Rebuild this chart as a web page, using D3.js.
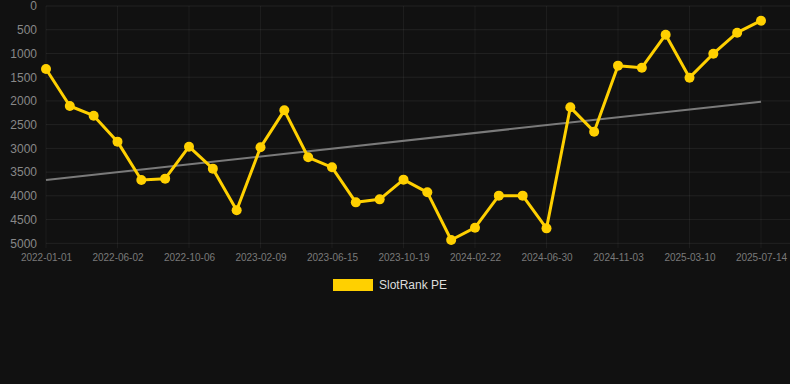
<!DOCTYPE html>
<html>
<head>
<meta charset="utf-8">
<script src="https://cdn.jsdelivr.net/npm/d3@7"></script>
<style>
  html, body { margin: 0; padding: 0; background: #111111; }
  svg { display: block; }
  text { font-family: "Liberation Sans", Arial, sans-serif; }
</style>
</head>
<body>
<script>
const categories = [
  "2022-01-01","2022-02-20","2022-04-12","2022-06-02","2022-07-14","2022-08-25",
  "2022-10-06","2022-11-17","2022-12-29","2023-02-09","2023-03-23","2023-05-04",
  "2023-06-15","2023-07-27","2023-09-07","2023-10-19","2023-11-30","2024-01-11",
  "2024-02-22","2024-04-04","2024-05-17","2024-06-30","2024-08-11","2024-09-22",
  "2024-11-03","2024-12-15","2025-01-26","2025-03-10","2025-04-21","2025-06-02",
  "2025-07-14"
];
const rankValues = [
  1327, 2107, 2311, 2858, 3666, 3638, 2964, 3427, 4305, 2978, 2198,
  3188, 3399, 4137, 4074, 3659, 3926, 4930, 4671, 3996, 3996,
  4685, 2135, 2648, 1257, 1300, 604, 1510, 1005, 562, 310
];
const trendValues = [3665, 2015];
const yTicks = [0, 500, 1000, 1500, 2000, 2500, 3000, 3500, 4000, 4500, 5000];
const seriesName = "SlotRank PE";
const labelEvery = 3;

const W = 790, H = 384;
const plotLeft = 46, plotRight = 790, firstX = 46, lastX = 761;
const plotTop = 6, plotBottom = 243.3;

const svg = d3.select("body").append("svg").attr("width", W).attr("height", H);
svg.append("rect").attr("width", W).attr("height", H).attr("fill", "#111111");

const x = d3.scalePoint().domain(categories).range([firstX, lastX]);
const y = d3.scaleLinear().domain([0, 5000]).range([plotTop, plotBottom]);

const shownCats = categories.filter((d, i) => i % labelEvery === 0);

// horizontal grid
svg.append("g").selectAll("line").data(yTicks).join("line")
  .attr("x1", plotLeft).attr("x2", plotRight)
  .attr("y1", d => y(d)).attr("y2", d => y(d))
  .attr("stroke", "rgba(255,255,255,0.07)").attr("stroke-width", 1);

// vertical grid
svg.append("g").selectAll("line").data(shownCats).join("line")
  .attr("x1", d => x(d)).attr("x2", d => x(d))
  .attr("y1", plotTop).attr("y2", plotBottom + 5)
  .attr("stroke", "rgba(255,255,255,0.05)").attr("stroke-width", 1);

// y axis labels
const yAxis = d3.axisLeft(y).tickValues(yTicks).tickSize(0).tickPadding(0).tickFormat(d3.format("d"));
const gy = svg.append("g").attr("transform", `translate(37,0)`).call(yAxis);
gy.select(".domain").remove();
gy.selectAll("text").attr("fill", "#888").style("font-size", "12px")
  .style("font-family", "'Liberation Sans', Arial, sans-serif");

// x axis labels
const xAxis = d3.axisBottom(x).tickValues(shownCats).tickSize(0).tickPadding(0);
const gx = svg.append("g").attr("transform", `translate(0,${plotBottom + 11})`).call(xAxis);
gx.select(".domain").remove();
gx.selectAll("text").attr("fill", "#7a7a7a").style("font-size", "10px")
  .style("font-family", "'Liberation Sans', Arial, sans-serif");

// trend line
svg.append("line")
  .attr("x1", x(categories[0])).attr("x2", x(categories[categories.length - 1]))
  .attr("y1", y(trendValues[0])).attr("y2", y(trendValues[1]))
  .attr("stroke", "#7a7a7a").attr("stroke-width", 2);

// data line
const pts = categories.map((c, i) => ({c, v: rankValues[i]}));
svg.append("path").datum(pts)
  .attr("d", d3.line().x(d => x(d.c)).y(d => y(d.v)))
  .attr("fill", "none").attr("stroke", "#FFD000").attr("stroke-width", 3)
  .attr("stroke-linejoin", "round");

svg.append("g").selectAll("circle").data(pts).join("circle")
  .attr("cx", d => x(d.c)).attr("cy", d => y(d.v)).attr("r", 5)
  .attr("fill", "#FFD000");

// legend
const lg = svg.append("g");
lg.append("rect").attr("x", 333).attr("y", 279).attr("width", 40).attr("height", 12).attr("fill", "#FFD000");
lg.append("text").attr("x", 379).attr("y", 285).attr("dy", "0.35em")
  .attr("fill", "#dddddd").style("font-size", "12px").text(seriesName);
</script>
</body>
</html>
